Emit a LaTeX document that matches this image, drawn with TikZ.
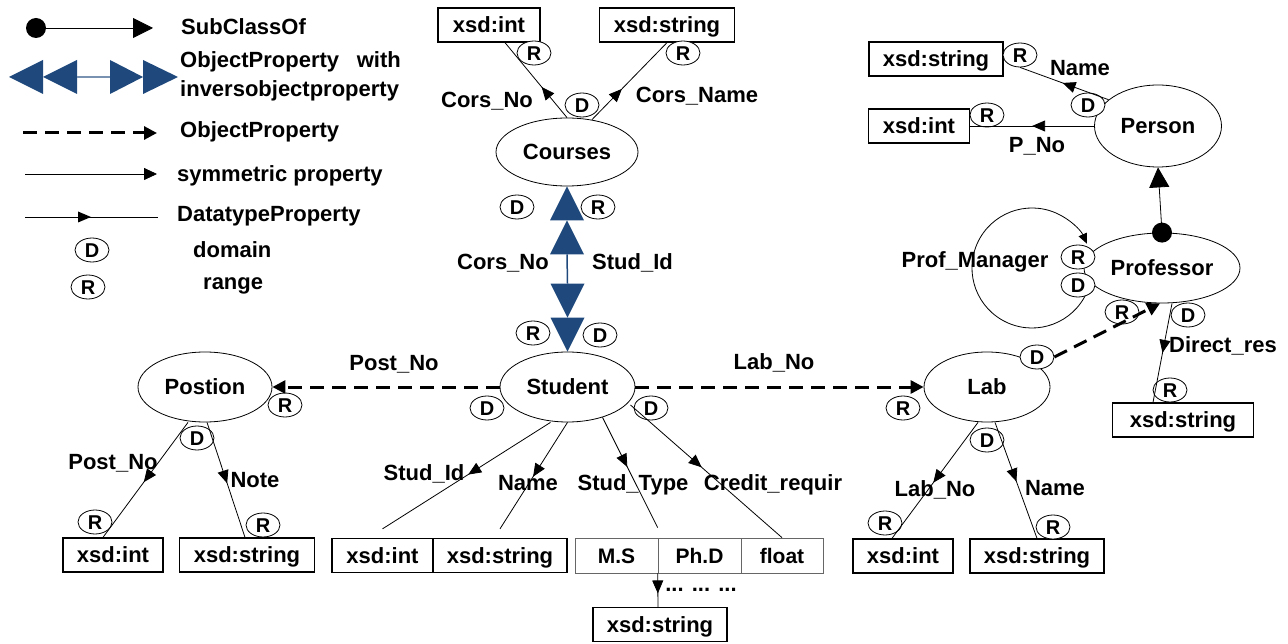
\documentclass[tikz,border=0pt]{standalone}
\usepackage{fontspec}
\setmainfont{Liberation Sans}
\usetikzlibrary{arrows.meta,shapes.geometric,decorations.markings}
\newcommand\lblfont{\fontsize{22}{26}\selectfont\bfseries}
\newcommand\drfont{\fontsize{20}{24}\selectfont\bfseries}
\newcommand\smfont{\fontsize{21}{24}\selectfont\bfseries}
\definecolor{opblue}{RGB}{31,73,125}
\begin{document}
\begin{tikzpicture}[x=1pt,y=-1pt,
 lbl/.style={font=\lblfont, inner sep=0pt, text height=15.8pt, text depth=0pt},
 cls/.style={ellipse, draw, line width=0.8pt, fill=white, font=\lblfont, inner sep=0pt, text height=15.8pt, text depth=0pt},
 dtbox/.style={rectangle, draw, line width=1.3pt, fill=white, font=\lblfont, inner sep=0pt, minimum height=34pt, text height=15.8pt, text depth=0pt},
 dtboxg/.style={rectangle, draw=black!60, line width=0.7pt, fill=white, font=\smfont, inner sep=0pt, minimum height=35pt, text height=15pt, text depth=0pt},
 dr/.style={ellipse, draw, line width=0.8pt, fill=white, font=\drfont, inner sep=0pt, minimum width=34pt, minimum height=24pt, text height=14.3pt, text depth=0pt},
 conn/.style={line width=0.8pt},
 dtp/.style={conn, postaction={decorate, decoration={markings, mark=at position #1 with {\arrow{Triangle[length=13pt,width=11pt]}}}}},
 objp/.style={line width=3pt, dash pattern=on 14pt off 8pt, -{Triangle[length=13pt,width=13pt]}},
]
\useasboundingbox (0,0) rectangle (1288,644);

% ---------- legend ----------
\fill (36,28) circle[radius=10];
\draw[conn, -{Triangle[length=20pt,width=20pt]}] (36,28) -- (153,28);
\node[lbl, anchor=west] (lgsub) at (181,27) {SubClassOf};

\fill[opblue] (9,77) -- (43,60) -- (43,94) -- cycle;
\fill[opblue] (43,77) -- (77,60) -- (77,94) -- cycle;
\draw[opblue!60, line width=1.5pt] (77,77) -- (110,77);
\fill[opblue] (143,77) -- (110,60) -- (110,94) -- cycle;
\fill[opblue] (178,77) -- (143,60) -- (143,94) -- cycle;
\node[lbl, anchor=west] (lgop1) at (180,60) {ObjectProperty};
\node[lbl, anchor=east] (lgop2) at (401,60) {with};
\node[lbl, anchor=west] (lgop3) at (180,89) {inversobjectproperty};

\draw[objp] (23,133) -- (157,133);
\node[lbl, anchor=west] (lgobj) at (180,130) {ObjectProperty};

\draw[conn, -{Triangle[length=13pt,width=12pt]}] (25,174) -- (157,174);
\node[lbl, anchor=west] (lgsym) at (177,174) {symmetric property};

\draw[conn] (25,217) -- (158,217);
\fill (91,217) -- (78,211.5) -- (78,222.5) -- cycle;
\node[lbl, anchor=west] (lgdt) at (177,214) {DatatypeProperty};

\node[dr] (lgD) at (92,250) {D};
\node[lbl, anchor=west] (lgdom) at (193,250) {domain};
\node[dr] (lgR) at (88,287) {R};
\node[lbl, anchor=west] (lgran) at (203,282) {range};

% ---------- Prof_Manager loop ----------
\coordinate (pmD) at (1086.8,292.4);
\draw[conn, -{Triangle[length=10pt,width=9pt]}] (pmD) arc[start angle=24, end angle=336, radius=60];

% ---------- classes ----------
\node[cls, minimum width=142pt, minimum height=68pt] (courses) at (567,152) {Courses};
\node[cls, minimum width=135pt, minimum height=70pt] (student) at (567.5,387) {Student};
\node[cls, minimum width=134pt, minimum height=70pt] (postion) at (205,387) {Postion};
\node[cls, minimum width=126pt, minimum height=70pt] (lab) at (987,387) {Lab};
\node[cls, minimum width=156pt, minimum height=70pt] (prof) at (1162,268) {Professor};
\node[cls, minimum width=127pt, minimum height=82pt] (person) at (1158,126) {Person};

% ---------- datatypes ----------
\node[dtbox, minimum width=102pt] (cint) at (489,25) {xsd:int};
\node[dtbox, minimum width=135pt] (cstr) at (667,25) {xsd:string};
\node[dtbox, minimum width=134pt] (pstr) at (936,59) {xsd:string};
\node[dtbox, minimum width=101pt] (pint) at (919,126) {xsd:int};
\node[dtbox, minimum width=141pt] (dstr) at (1183,420) {xsd:string};
\node[dtbox, minimum width=100pt] (lint) at (903,556) {xsd:int};
\node[dtbox, minimum width=134pt] (lstr) at (1037,556) {xsd:string};
\node[dtbox, minimum width=100pt] (point) at (113,555) {xsd:int};
\node[dtbox, minimum width=135pt] (postr) at (247,555) {xsd:string};
\node[dtbox, minimum width=101pt] (sint) at (382.5,555.5) {xsd:int};
\node[dtbox, minimum width=134pt] (sstr) at (500,555.5) {xsd:string};
\node[dtboxg, minimum width=83pt] (ms) at (616.5,555.5) {M.S};
\node[dtboxg, minimum width=83pt] (phd) at (699.5,555.5) {Ph.D};
\node[dtboxg, minimum width=82pt] (flt) at (782,555.5) {float};
\node[dtbox, minimum width=134pt] (bstr) at (660,624.5) {xsd:string};

% ---------- domain / range markers ----------
\node[dr] (rc1) at (534,53) {R};
\node[dr] (rc2) at (683,53) {R};
\node[dr] (dc) at (582,105) {D};
\node[dr] (dm1) at (517,207) {D};
\node[dr] (rm1) at (598,207) {R};
\node[dr] (rm2) at (533,333) {R};
\node[dr] (dm2) at (600,335) {D};
\node[dr] (ds1) at (487,408) {D};
\node[dr] (ds2) at (651,408) {D};
\node[dr] (rp1) at (285,405) {R};
\node[dr] (dp) at (197,438) {D};
\node[dr] (rp2) at (95,522) {R};
\node[dr] (rp3) at (263,525) {R};
\node[dr] (rl1) at (903,408) {R};
\node[dr] (dl1) at (1037,357) {D};
\node[dr] (dl2) at (987,440) {D};
\node[dr] (rl2) at (885,523) {R};
\node[dr] (rl3) at (1053,527) {R};
\node[dr] (rpr1) at (1078,257) {R};
\node[dr] (dpr1) at (1078,285) {D};
\node[dr] (rpr2) at (1122,312) {R};
\node[dr] (dpr2) at (1188,315) {D};
\node[dr] (rpr3) at (1170,390) {R};
\node[dr] (rpe1) at (1020,55) {R};
\node[dr] (dpe) at (1088,105) {D};
\node[dr] (rpe2) at (987,115) {R};

% ---------- connectors ----------
\draw[dtp=0.41] (courses.north) -- ([xshift=16pt]cint.south);
\draw[dtp=0.4] ([xshift=25pt,yshift=-2pt]courses.north) -- (cstr.south);

\draw[opblue, line width=1.5pt] ([yshift=-68pt]courses.south) -- ([yshift=68pt]student.north);
\fill[opblue] (courses.south) -- ++(-17,34) -- ++(34,0) -- cycle;
\fill[opblue] ([yshift=-34pt]courses.south) -- ++(-17,34) -- ++(34,0) -- cycle;
\fill[opblue] (student.north) -- ++(-17,-34) -- ++(34,0) -- cycle;
\fill[opblue] ([yshift=34pt]student.north) -- ++(-17,-34) -- ++(34,0) -- cycle;

\draw[objp] (student.west) -- (postion.east);
\draw[objp] (student.east) -- (lab.west);
\draw[objp] (dl1.east) -- ([xshift=-2pt]prof.south);

\draw[dtp=0.52] ([xshift=-17pt]postion.south) -- ([xshift=-10pt]point.north);
\draw[dtp=0.53] ([xshift=2pt]postion.south) -- ([xshift=-2pt]postr.north);

\draw[dtp=0.49] ([xshift=-17pt]student.south) -- ([yshift=9pt]sint.north);
\draw[dtp=0.51] (student.south) -- ([yshift=9pt]sstr.north);
\draw[dtp=0.45] ([xshift=35pt,yshift=5pt]student.south) -- ([yshift=10pt]phd.north west);
\draw[dtp=0.47] ([xshift=63pt,yshift=-18pt]student.center) -- (flt.north);
\draw[dtp=0.6] (phd.south west) -- ([xshift=-2pt]bstr.north);

\draw[dtp=0.52] ([xshift=-9pt]lab.south) -- ([xshift=-11pt]lint.north);
\draw[dtp=0.51] ([xshift=8pt]lab.south) -- (lstr.north);

\draw[dtp=0.5] ([xshift=10pt]prof.south) -- ([xshift=-30pt]dstr.north);
\fill (prof.north) circle[radius=10];
\draw[conn, -{Triangle[length=20pt,width=20pt]}] (prof.north) -- (person.south);

\draw[dtp=0.52] (person.152) -- (rpe1.south);
\draw[dtp=0.5] (person.west) -- (pint.east);

% ---------- labels ----------
\node[lbl] (lcn1) at (487,100) {Cors\_No};
\node[lbl] (lcnm) at (697,95) {Cors\_Name};
\node[lbl, anchor=east] (lcn2) at (549,262) {Cors\_No};
\node[lbl, anchor=west] (lsid) at (592,262) {Stud\_Id};
\node[lbl] (lpn) at (394,363) {Post\_No};
\node[lbl] (lln) at (774,362) {Lab\_No};
\node[lbl] (lpn2) at (113,462) {Post\_No};
\node[lbl] (lnote) at (255,480) {Note};
\node[lbl] (lsid2) at (424,473) {Stud\_Id};
\node[lbl] (lname) at (528,483) {Name};
\node[lbl] (lst) at (633,483) {Stud\_Type};
\node[lbl] (lcr) at (773,483) {Credit\_requir};
\node[lbl] (lln2) at (935,489) {Lab\_No};
\node[lbl] (lname2) at (1055,488) {Name};
\node[lbl] (ldr) at (1223,345) {Direct\_res};
\node[lbl] (lpm) at (975,260) {Prof\_Manager};
\node[lbl] (lpname) at (1080,68) {Name};
\node[lbl] (lpno) at (1037,145) {P\_No};
\node[lbl] (ldots) at (701,584) {... ... ...};
\end{tikzpicture}
\end{document}
